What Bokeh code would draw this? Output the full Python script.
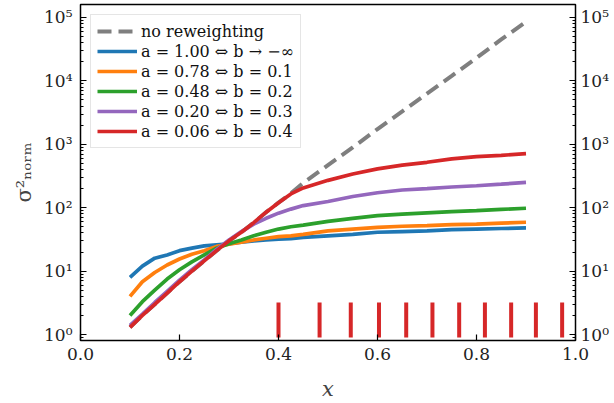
from bokeh.plotting import figure
from bokeh.models import (LogAxis, Legend, LegendItem, CustomJSTickFormatter,
                          FixedTicker, LogTicker, Range1d)
from bokeh.embed import file_html
from bokeh.resources import INLINE

# ---- data ----
x = [0.10, 0.125, 0.15, 0.175, 0.20, 0.225, 0.25, 0.275, 0.30, 0.325, 0.35, 0.375,
     0.40, 0.425, 0.45, 0.50, 0.55, 0.60, 0.65, 0.70, 0.75, 0.80, 0.85, 0.90]
no_reweighting = [1.3, 2.0, 3.0, 4.5, 6.8, 10, 14.5, 21, 30, 41, 58, 85,
                  120, 168, 245, 470, 890, 1740, 3300, 6300, 12000, 23000, 45000, 85000]
a_100 = [8.0, 12, 16, 18, 21, 23, 25, 26, 27, 28.5, 30, 31,
         32, 32.5, 34, 36, 38, 41, 42, 43, 45, 46, 47, 48]
a_078 = [4.0, 6.8, 9.5, 12.5, 15.5, 18.5, 21, 24.5, 26.5, 28.5, 31, 33,
         35, 36, 38, 43, 46, 49, 51, 52, 54, 55, 57, 59]
a_048 = [2.0, 3.3, 5.0, 7.5, 10.5, 14, 18, 23, 27, 31, 36, 41,
         46, 50, 53, 61, 68, 75, 79, 83, 87, 90, 94, 98]
a_020 = [1.4, 2.1, 3.2, 4.8, 7.2, 10.5, 15, 22, 31, 42, 55, 68,
         82, 95, 108, 125, 150, 172, 190, 200, 212, 222, 235, 250]
a_006 = [1.3, 2.0, 3.0, 4.5, 6.8, 10, 14.5, 21, 30, 41, 58, 85,
         120, 165, 205, 270, 340, 410, 470, 520, 590, 640, 670, 710]
rug_x = [0.400, 0.483, 0.546, 0.603, 0.658, 0.711, 0.765, 0.817, 0.870, 0.920, 0.973]
rug_y0 = 0.9
rug_y1 = 3.2

labels = ["no reweighting",
          "a = 1.00 ⇔ b → −∞",
          "a = 0.78 ⇔ b = 0.1",
          "a = 0.48 ⇔ b = 0.2",
          "a = 0.20 ⇔ b = 0.3",
          "a = 0.06 ⇔ b = 0.4"]
x_ticks = [0.0, 0.2, 0.4, 0.6, 0.8, 1.0]

SERIF = "DejaVu Serif"

p = figure(width=614, height=403, x_range=Range1d(0, 1), y_range=Range1d(0.805, 1.6e5),
           y_axis_type="log", output_backend="svg", toolbar_location=None,
           min_border_top=4, min_border_left=80, min_border_right=39, min_border_bottom=61)
p.grid.visible = False
p.outline_line_color = "black"
p.outline_line_width = 1.5
p.background_fill_color = "white"
p.border_fill_color = "white"

# series
r0 = p.line(x, no_reweighting, line_color="#7f7f7f", line_width=4, line_dash="14 7")
colors = ["#1f77b4", "#ff7f0e", "#2ca02c", "#9467bd", "#d62728"]
series = [a_100, a_078, a_048, a_020, a_006]
rs = [r0]
for ys, c in zip(series, colors):
    rs.append(p.line(x, ys, line_color=c, line_width=3.7))

p.segment(x0=rug_x, y0=[rug_y0] * len(rug_x), x1=rug_x, y1=[rug_y1] * len(rug_x),
          line_color="#d62728", line_width=4)

# axes
sup_js = """
const sup = {'0':'\u2070','1':'\u00b9','2':'\u00b2','3':'\u00b3','4':'\u2074',
             '5':'\u2075','6':'\u2076','7':'\u2077','8':'\u2078','9':'\u2079','-':'\u207b'};
const e = Math.round(Math.log10(tick));
return '10' + String(e).split('').map(c => sup[c]).join('');
"""
fmt = CustomJSTickFormatter(code=sup_js)

def style_y(ax, standoff):
    ax.ticker = LogTicker(num_minor_ticks=10)
    ax.formatter = fmt
    ax.major_tick_in = 6
    ax.major_tick_out = 0
    ax.minor_tick_in = 3
    ax.minor_tick_out = 0
    ax.major_tick_line_width = 1.2
    ax.axis_line_color = None
    ax.major_label_text_font = SERIF
    ax.major_label_text_font_size = "17px"
    ax.major_label_text_color = "#222222"
    ax.major_label_standoff = standoff

yl = p.yaxis[0]
style_y(yl, 8)
yl.axis_label = "σ²ₙₒᵣₘ"
yl.axis_label_text_font = SERIF
yl.axis_label_text_font_style = "normal"
yl.axis_label_text_font_size = "21px"
yl.axis_label_standoff = 5

yr = LogAxis()
style_y(yr, 5)
p.add_layout(yr, "right")

xa = p.xaxis[0]
xa.ticker = FixedTicker(ticks=x_ticks)
xa.formatter = CustomJSTickFormatter(code="return tick.toFixed(1);")
xa.major_tick_in = 6
xa.major_tick_out = 0
xa.major_tick_line_width = 1.2
xa.minor_tick_line_color = None
xa.axis_line_color = None
xa.major_label_text_font = SERIF
xa.major_label_text_font_size = "17px"
xa.major_label_text_color = "#222222"
xa.major_label_standoff = 7
xa.axis_label = "x"
xa.axis_label_text_font = SERIF
xa.axis_label_text_font_style = "italic"
xa.axis_label_text_font_size = "21px"
xa.axis_label_standoff = 14

legend = Legend(items=[LegendItem(label=l, renderers=[r]) for l, r in zip(labels, rs)],
                location="top_left")
legend.label_text_font = SERIF
legend.label_text_font_size = "16px"
legend.label_text_color = "#111111"
legend.glyph_width = 40
legend.glyph_height = 20
legend.label_height = 20
legend.label_standoff = 4
legend.spacing = 0
legend.padding = 6
legend.margin = 10
legend.border_line_color = "#cccccc"
legend.border_line_width = 1
legend.background_fill_alpha = 0.85
p.add_layout(legend)

open("out.html", "w").write(file_html(p, INLINE))
